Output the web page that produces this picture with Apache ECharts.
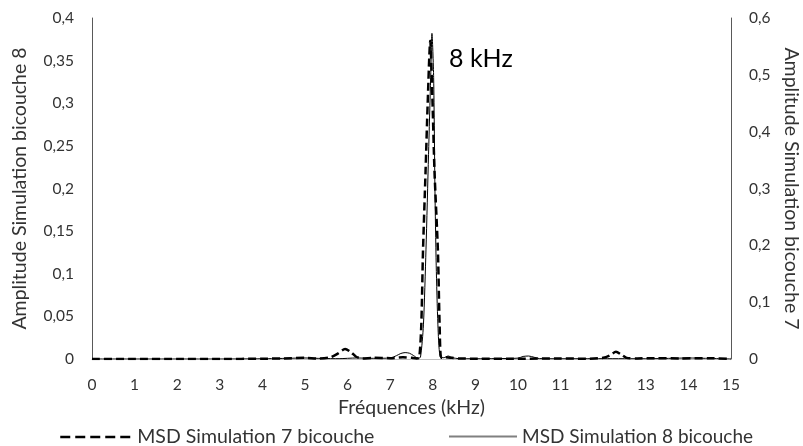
<!DOCTYPE html>
<html>
<head>
<meta charset="utf-8">
<script src="https://cdn.jsdelivr.net/npm/echarts@6/dist/echarts.min.js"></script>
<style>
html,body{margin:0;padding:0;background:#fff;}
#chart{width:803px;height:446px;}
</style>
</head>
<body>
<div id="chart"></div>
<script>
// ---- data ----
var xTicks = [0,1,2,3,4,5,6,7,8,9,10,11,12,13,14,15];
var seriesNames = ['MSD Simulation 7 bicouche', 'MSD Simulation 8 bicouche'];
var annotationText = '8 kHz';

// MSD Simulation 8 bicouche (left axis)
var freq8 = [0, 1, 2, 3, 4, 4.6, 5.0, 5.4, 5.8, 6.2, 6.6, 7.0, 7.15, 7.25, 7.35, 7.45, 7.55, 7.65, 7.71, 7.78, 7.84, 7.9, 7.95, 7.98, 8.02, 8.05, 8.08, 8.12, 8.17, 8.26, 8.36, 8.46, 8.6, 9.0, 9.5, 10.0, 10.12, 10.25, 10.38, 10.5, 11, 12, 13, 13.6, 14, 14.4, 15];
var amp8  = [0, 0, 0, 0, 0.0003, 0.0008, 0.0012, 0.0006, 0.0004, 0.0012, 0.0008, 0.0012, 0.004, 0.0065, 0.0075, 0.0068, 0.004, 0.001, 0.002, 0.04, 0.128, 0.24, 0.33, 0.382, 0.33, 0.2, 0.11, 0.04, 0.003, 0.0015, 0.0035, 0.0015, 0.0005, 0.0003, 0.0005, 0.001, 0.003, 0.0035, 0.002, 0.0005, 0.0003, 0.0004, 0.0003, 0.0008, 0.0012, 0.0008, 0];

// MSD Simulation 7 bicouche (right axis)
var freq7 = [0, 1, 2, 3, 4, 4.5, 5.0, 5.3, 5.6, 5.78, 5.94, 6.08, 6.2, 6.35, 6.6, 7.0, 7.3, 7.5, 7.62, 7.68, 7.73, 7.77, 7.83, 7.88, 7.94, 7.99, 8.04, 8.12, 8.16, 8.2, 8.3, 8.45, 8.6, 9, 10, 11, 11.6, 12.0, 12.15, 12.3, 12.42, 12.55, 12.8, 13.2, 13.8, 14.5, 15];
var amp7  = [0, 0, 0, 0, 0.0005, 0.001, 0.002, 0.001, 0.003, 0.01, 0.0176, 0.012, 0.004, 0.001, 0.002, 0.0015, 0.003, 0.002, 0.001, 0.002, 0.06, 0.19, 0.33, 0.45, 0.56, 0.46, 0.33, 0.19, 0.06, 0.002, 0.003, 0.002, 0.001, 0.0005, 0.0005, 0.001, 0.0005, 0.002, 0.006, 0.0128, 0.008, 0.002, 0.001, 0.0015, 0.001, 0.0015, 0];

function pairs(xs, ys){ return xs.map(function(x,i){ return [x, ys[i]]; }); }
function fmt(v){ return String(+v.toFixed(2)).replace('.', ','); }

var FONT = 'Lato';
var TXT = '#333333';

var chart = echarts.init(document.getElementById('chart'), null, {renderer:'canvas'});
chart.setOption({
  animation: false,
  backgroundColor: '#fff',
  textStyle: {fontFamily: FONT},
  grid: {left: 92, right: 72, top: 18, bottom: 87, containLabel: false, outerBoundsMode: 'none'},
  xAxis: {
    type: 'value', min: 0, max: 15, interval: 1,
    name: 'Fréquences (kHz)', nameLocation: 'middle', nameGap: 38,
    nameTextStyle: {fontFamily: FONT, fontSize: 19.5, color: TXT},
    axisLine: {show: true, onZero: false, lineStyle: {color: '#bfbfbf'}},
    axisTick: {show: false},
    splitLine: {show: false},
    axisLabel: {fontFamily: FONT, fontSize: 15.5, color: TXT, margin: 18,
      formatter: function(v){ return xTicks.indexOf(v) >= 0 ? String(v) : ''; }}
  },
  yAxis: [{
    type: 'value', min: 0, max: 0.4, interval: 0.05, position: 'left',
    name: 'Amplitude Simulation bicouche 8', nameLocation: 'middle', nameGap: 62, nameRotate: 90,
    nameTextStyle: {fontFamily: FONT, fontSize: 19.5, color: TXT},
    axisLine: {show: true, lineStyle: {color: '#595959'}},
    axisTick: {show: false},
    splitLine: {show: false},
    axisLabel: {fontFamily: FONT, fontSize: 15.5, color: TXT, margin: 18, formatter: fmt}
  }, {
    type: 'value', min: 0, max: 0.6, interval: 0.1, position: 'right',
    name: 'Amplitude Simulation bicouche 7', nameLocation: 'middle', nameGap: 50, nameRotate: -90,
    nameTextStyle: {fontFamily: FONT, fontSize: 19.5, color: TXT},
    axisLine: {show: true, lineStyle: {color: '#595959'}},
    axisTick: {show: false},
    splitLine: {show: false},
    axisLabel: {fontFamily: FONT, fontSize: 15.5, color: TXT, margin: 18, formatter: fmt}
  }],
  legend: [{
    data: [seriesNames[0]], left: 54, top: 422, itemWidth: 72, itemHeight: 14,
    itemStyle: {opacity: 0},
    lineStyle: {type: [10, 5], width: 2.5},
    textStyle: {fontFamily: FONT, fontSize: 19.5, color: TXT}
  }, {
    data: [seriesNames[1]], left: 443, top: 422, itemWidth: 68, itemHeight: 14,
    itemStyle: {opacity: 0},
    lineStyle: {color: '#808080'},
    textStyle: {fontFamily: FONT, fontSize: 19, color: TXT}
  }],
  graphic: [{
    type: 'text', left: 449, top: 46,
    style: {text: annotationText, fontFamily: FONT, fontSize: 25, fill: '#000'}
  }],
  series: [{
    name: seriesNames[0], type: 'line', yAxisIndex: 1,
    data: pairs(freq7, amp7), symbol: 'none', smooth: 0.25,
    lineStyle: {color: '#000', width: 2.5, type: [8, 4]},
    itemStyle: {color: '#000'}
  }, {
    name: seriesNames[1], type: 'line', yAxisIndex: 0,
    data: pairs(freq8, amp8), symbol: 'none', smooth: 0.25,
    lineStyle: {color: '#000', width: 1},
    itemStyle: {color: '#000'}
  }]
});
</script>
</body>
</html>
